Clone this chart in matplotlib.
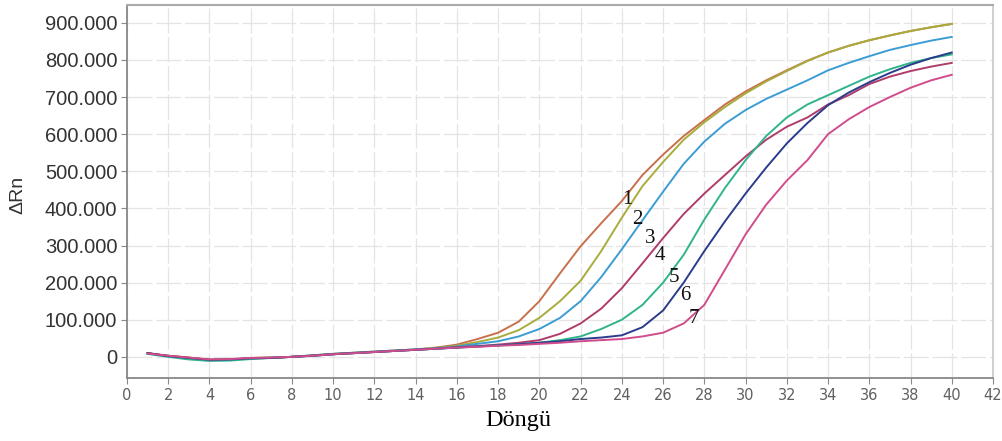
import matplotlib
matplotlib.use('Agg')
import matplotlib.pyplot as plt

# qPCR amplification curves, values in thousands of ΔRn
cycles = list(range(1, 41))

curve1 = [10, 3, -2, -8, -7, -3, -2, 0, 4, 8, 11, 14, 17, 20, 25, 33, 48, 65, 95, 150,
          225, 298, 360, 420, 490, 545, 595, 638, 680, 715, 745, 772, 798, 820, 838, 853, 866, 878, 888, 897]
curve2 = [9, 3, -2, -8, -7, -3, -2, 0, 4, 8, 11, 14, 17, 20, 24, 30, 40, 52, 72, 105,
          150, 205, 285, 375, 460, 525, 585, 632, 673, 710, 742, 770, 797, 820, 838, 853, 866, 878, 888, 897]
curve3 = [9, 2, -4, -9, -8, -4, -2, 0, 4, 8, 11, 14, 17, 20, 23, 28, 35, 42, 55, 75,
          105, 150, 215, 290, 368, 445, 520, 580, 628, 665, 695, 720, 745, 772, 792, 810, 827, 840, 852, 862]
curve4 = [10, 2, -3, -8, -8, -4, -3, 0, 3, 7, 10, 13, 16, 19, 22, 26, 29, 33, 38, 45,
          62, 90, 130, 185, 252, 320, 385, 440, 490, 540, 585, 620, 645, 680, 705, 735, 755, 770, 782, 792]
curve5 = [8, 0, -7, -11, -10, -6, -3, 0, 3, 7, 10, 13, 16, 19, 22, 25, 28, 31, 34, 38,
          45, 55, 75, 100, 140, 200, 275, 370, 455, 530, 595, 645, 680, 705, 730, 755, 775, 792, 805, 815]
curve6 = [10, 2, -3, -8, -7, -4, -3, 0, 3, 7, 10, 13, 16, 19, 22, 25, 28, 31, 34, 38,
          42, 48, 52, 58, 80, 125, 200, 285, 365, 440, 510, 575, 630, 678, 712, 740, 765, 787, 805, 820]
curve7 = [9, 3, -2, -7, -6, -3, -2, 0, 3, 7, 10, 13, 16, 19, 22, 25, 27, 30, 32, 35,
          38, 42, 45, 48, 55, 65, 90, 140, 235, 330, 410, 475, 530, 600, 640, 673, 700, 725, 745, 760]

curves = [curve1, curve2, curve3, curve4, curve5, curve6, curve7]
curve_names = ['1', '2', '3', '4', '5', '6', '7']
colors = ['#c8704c', '#a8ac3c', '#3c9cd4', '#b03c6c', '#30b48c', '#2c3c8c', '#d04c8c']

x_ticks = list(range(0, 43, 2))
y_ticks = [0, 100, 200, 300, 400, 500, 600, 700, 800, 900]
y_tick_labels = ['0', '100.000', '200.000', '300.000', '400.000',
                 '500.000', '600.000', '700.000', '800.000', '900.000']

# where the curve numbers sit (cycle, ΔRn)
label_pos = [(24.25, 423), (24.73, 371), (25.36, 320), (25.85, 272),
             (26.53, 215), (27.06, 164), (27.50, 104)]

fig = plt.figure(figsize=(10.02, 4.41), dpi=100)
ax = fig.add_axes([127 / 1002, 1 - 378 / 441, 866 / 1002, 373 / 441])

for vals, col in zip(curves, colors):
    ax.plot(cycles, vals, color=col, lw=1.4, solid_joinstyle='round')

for name, (cx, cy) in zip(curve_names, label_pos):
    ax.text(cx, cy, name, fontsize=15, family='Liberation Serif',
            ha='center', va='center', color='#111111')

ax.set_xlim(0, 42)
ax.set_ylim(-57, 948)
ax.set_xticks(x_ticks)
ax.set_xticklabels([str(t) for t in x_ticks], fontsize=10.5,
                   family=['Liberation Sans Narrow', 'DejaVu Sans'], color='#606060')
ax.set_yticks(y_ticks)
ax.set_yticklabels(y_tick_labels, fontsize=14.5, family='Liberation Sans', color='#333333')
ax.tick_params(axis='both', length=4, color='#888888', pad=3)

ax.grid(True, color='#e4e4e4', lw=0.9, ls=(0, (20, 3)))
ax.set_axisbelow(True)

for side in ['left', 'bottom']:
    ax.spines[side].set_color('#888888')
    ax.spines[side].set_linewidth(1.3)
ax.spines['top'].set_color('#aaaaaa')
ax.spines['top'].set_linewidth(1.5)
ax.spines['right'].set_color('#c8c8c8')
ax.spines['right'].set_linewidth(1.2)

ax.set_xlabel('Döngü', fontsize=17.5, family='Liberation Serif', va='center')
ax.xaxis.set_label_coords(0.452, -0.113)
ax.set_ylabel('ΔRn', fontsize=14, family=['Liberation Sans', 'DejaVu Sans'],
              va='center', color='#333333')
ax.yaxis.set_label_coords(-0.126, 0.49)

plt.savefig('out.png', dpi=100)
